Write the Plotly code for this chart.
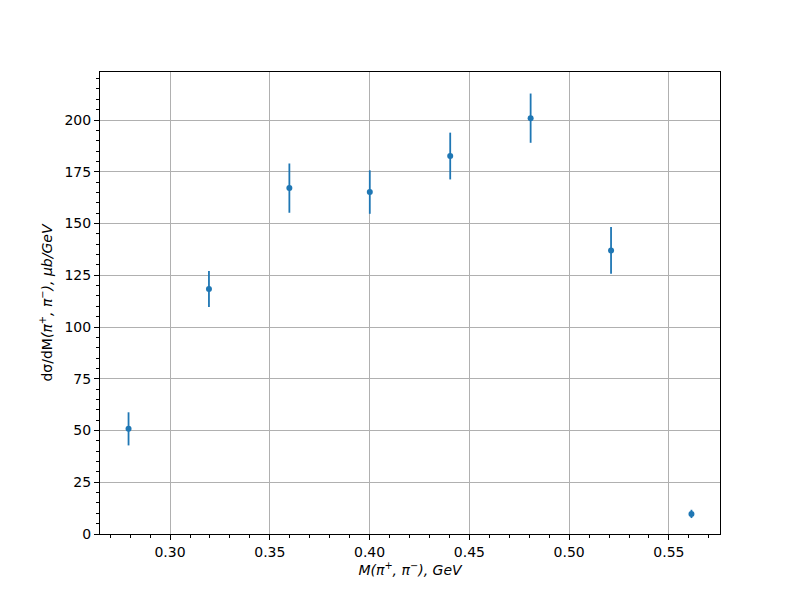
import plotly.graph_objects as go

mass = [0.2792, 0.3195, 0.3598, 0.4001, 0.4404, 0.4807, 0.5210, 0.5613]
xsec = [50.8, 118.4, 167.1, 165.2, 182.6, 200.9, 137.0, 9.7]
xsec_err = [8.0, 8.7, 11.9, 10.5, 11.3, 11.9, 11.3, 2.0]

x_ticks = [0.30, 0.35, 0.40, 0.45, 0.50, 0.55]
x_ticklabels = ["0.30", "0.35", "0.40", "0.45", "0.50", "0.55"]
y_ticks = [0, 25, 50, 75, 100, 125, 150, 175, 200]

blue = "#1f77b4"
fig = go.Figure()
fig.add_trace(go.Scatter(
    x=mass, y=xsec, mode="markers",
    marker=dict(color=blue, size=6),
    error_y=dict(type="data", array=xsec_err, color=blue, thickness=1.8, width=0),
    showlegend=False,
))

font = dict(family="DejaVu Sans", size=14, color="black")
fig.update_layout(
    width=800, height=600,
    margin=dict(l=92, r=88, t=64, b=74),
    paper_bgcolor="white", plot_bgcolor="white",
    font=font,
)
fig.update_xaxes(
    range=[0.2649, 0.5756],
    tickvals=x_ticks, ticktext=x_ticklabels,
    tickfont=font,
    showgrid=True, gridcolor="#b0b0b0", gridwidth=0.8,
    showline=True, linecolor="black", linewidth=1, mirror=True,
    ticks="outside", ticklen=5, tickwidth=1, tickcolor="black",
    minor=dict(dtick=0.01, tick0=0.30, ticks="outside", ticklen=3, tickwidth=0.8, tickcolor="black", showgrid=False),
    zeroline=False,
    title=dict(text="<i>M(π<sup>+</sup>, π<sup>−</sup>), GeV</i>", font=font, standoff=6),
)
fig.update_yaxes(
    range=[0, 223.2],
    tickvals=y_ticks,
    tickfont=font,
    showgrid=True, gridcolor="#b0b0b0", gridwidth=0.8,
    showline=True, linecolor="black", linewidth=1, mirror=True,
    ticks="outside", ticklen=5, tickwidth=1, tickcolor="black",
    minor=dict(dtick=5, tick0=0, ticks="outside", ticklen=3, tickwidth=0.8, tickcolor="black", showgrid=False),
    zeroline=False,
    title=dict(text="dσ/dM<i>(π<sup>+</sup>, π<sup>−</sup>), μb/GeV</i>", font=font, standoff=8),
)
fig.write_html("out.html")
